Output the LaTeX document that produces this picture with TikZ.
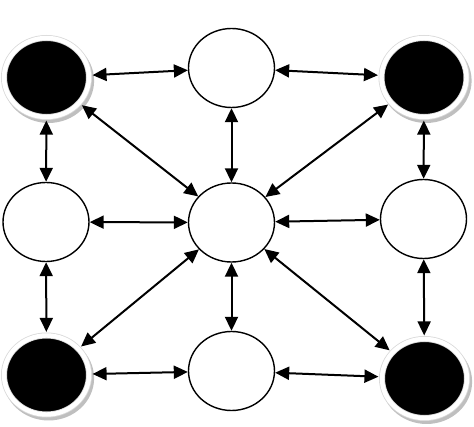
\documentclass[tikz,border=0pt]{standalone}
\usepackage{tikz}
\usetikzlibrary{shapes.geometric,arrows.meta,shadows}

\tikzset{
  hub/.style={ellipse, draw, line width=1.4pt, fill=white, inner sep=0pt,
    minimum width=86pt, minimum height=79pt},
  corner/.style={ellipse, fill=black, draw=gray!30, line width=0.8pt,
    double=white, double distance=4.4pt, inner sep=0pt, outer sep=3.6pt,
    minimum width=85pt, minimum height=79pt,
    drop shadow={shadow xshift=2pt, shadow yshift=-3pt, shadow scale=1.07,
      fill=gray!50, opacity=1}},
  link/.style={line width=2pt,
    {Triangle[length=14pt,width=13pt]}-{Triangle[length=14pt,width=13pt]}}
}

\begin{document}
\begin{tikzpicture}[x=1pt,y=-1pt]
\useasboundingbox (0,0) rectangle (474,427);
% corners
\node[corner] (tl) at (46.5,77.5) {};
\node[corner] (tr) at (424,77.5) {};
\node[corner] (bl) at (46.5,375) {};
\node[corner] (br) at (424.5,378.5) {};
% white ones
\node[hub] (tm) at (231.5,68) {};
\node[hub] (ml) at (46,222) {};
\node[hub] (c) at (231.5,222.5) {};
\node[hub] (mr) at (423.5,219) {};
\node[hub] (bm) at (231.5,371) {};
% rows
\draw[link] (tl) -- (tm);
\draw[link] (tm) -- (tr);
\draw[link] (ml) -- (c);
\draw[link] (c) -- (mr);
\draw[link] (bl) -- (bm);
\draw[link] (bm) -- (br);
% columns
\draw[link] (tl) -- (ml);
\draw[link] (ml) -- (bl);
\draw[link] (tm) -- (c);
\draw[link] (c) -- (bm);
\draw[link] (tr) -- (mr);
\draw[link] (mr) -- (br);
% diagonals
\draw[link] (tl) -- (c);
\draw[link] (tr) -- (c);
\draw[link] (bl) -- (c);
\draw[link] (br) -- (c);
\end{tikzpicture}
\end{document}
